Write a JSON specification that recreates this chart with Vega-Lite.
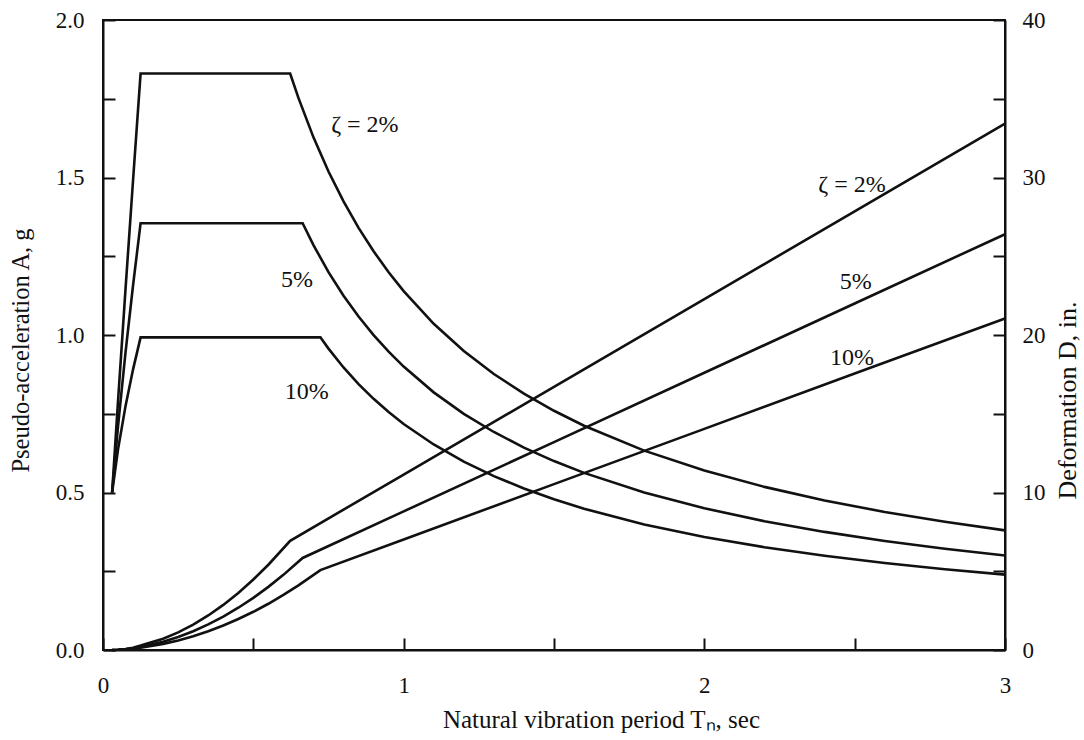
{
  "$schema": "https://vega.github.io/schema/vega-lite/v6.json",
  "width": 902,
  "height": 630,
  "autosize": {"type": "none"},
  "padding": {"left": 103, "top": 20, "right": 79, "bottom": 90},
  "background": "white",
  "datasets": {
    "acc": [
      {"T": 0.0303, "A": 0.5, "zeta": "2%"}, {"T": 0.05, "A": 0.791, "zeta": "2%"}, {"T": 0.075, "A": 1.147, "zeta": "2%"}, {"T": 0.1, "A": 1.492, "zeta": "2%"}, {"T": 0.125, "A": 1.83, "zeta": "2%"}, {"T": 0.6225, "A": 1.83, "zeta": "2%"},
      {"T": 0.65, "A": 1.7526, "zeta": "2%"}, {"T": 0.7, "A": 1.6274, "zeta": "2%"}, {"T": 0.75, "A": 1.5189, "zeta": "2%"}, {"T": 0.8, "A": 1.424, "zeta": "2%"}, {"T": 0.85, "A": 1.3402, "zeta": "2%"}, {"T": 0.9, "A": 1.2658, "zeta": "2%"}, {"T": 0.95, "A": 1.1992, "zeta": "2%"}, {"T": 1.0, "A": 1.1392, "zeta": "2%"}, {"T": 1.1, "A": 1.0356, "zeta": "2%"}, {"T": 1.2, "A": 0.9493, "zeta": "2%"}, {"T": 1.3, "A": 0.8763, "zeta": "2%"}, {"T": 1.4, "A": 0.8137, "zeta": "2%"}, {"T": 1.5, "A": 0.7595, "zeta": "2%"}, {"T": 1.6, "A": 0.712, "zeta": "2%"}, {"T": 1.8, "A": 0.6329, "zeta": "2%"}, {"T": 2.0, "A": 0.5696, "zeta": "2%"}, {"T": 2.2, "A": 0.5178, "zeta": "2%"}, {"T": 2.4, "A": 0.4747, "zeta": "2%"}, {"T": 2.6, "A": 0.4382, "zeta": "2%"}, {"T": 2.8, "A": 0.4069, "zeta": "2%"}, {"T": 3.0, "A": 0.3797, "zeta": "2%"},
      {"T": 0.0303, "A": 0.5, "zeta": "5%"}, {"T": 0.05, "A": 0.711, "zeta": "5%"}, {"T": 0.075, "A": 0.946, "zeta": "5%"}, {"T": 0.1, "A": 1.158, "zeta": "5%"}, {"T": 0.125, "A": 1.355, "zeta": "5%"}, {"T": 0.664, "A": 1.355, "zeta": "5%"},
      {"T": 0.7, "A": 1.2853, "zeta": "5%"}, {"T": 0.75, "A": 1.1996, "zeta": "5%"}, {"T": 0.8, "A": 1.1246, "zeta": "5%"}, {"T": 0.85, "A": 1.0585, "zeta": "5%"}, {"T": 0.9, "A": 0.9997, "zeta": "5%"}, {"T": 0.95, "A": 0.9471, "zeta": "5%"}, {"T": 1.0, "A": 0.8997, "zeta": "5%"}, {"T": 1.1, "A": 0.8179, "zeta": "5%"}, {"T": 1.2, "A": 0.7498, "zeta": "5%"}, {"T": 1.3, "A": 0.6921, "zeta": "5%"}, {"T": 1.4, "A": 0.6426, "zeta": "5%"}, {"T": 1.5, "A": 0.5998, "zeta": "5%"}, {"T": 1.6, "A": 0.5623, "zeta": "5%"}, {"T": 1.8, "A": 0.4998, "zeta": "5%"}, {"T": 2.0, "A": 0.4499, "zeta": "5%"}, {"T": 2.2, "A": 0.409, "zeta": "5%"}, {"T": 2.4, "A": 0.3749, "zeta": "5%"}, {"T": 2.6, "A": 0.346, "zeta": "5%"}, {"T": 2.8, "A": 0.3213, "zeta": "5%"}, {"T": 3.0, "A": 0.2999, "zeta": "5%"},
      {"T": 0.0303, "A": 0.5, "zeta": "10%"}, {"T": 0.05, "A": 0.637, "zeta": "10%"}, {"T": 0.075, "A": 0.775, "zeta": "10%"}, {"T": 0.1, "A": 0.891, "zeta": "10%"}, {"T": 0.125, "A": 0.9925, "zeta": "10%"}, {"T": 0.723, "A": 0.9925, "zeta": "10%"},
      {"T": 0.75, "A": 0.9568, "zeta": "10%"}, {"T": 0.8, "A": 0.897, "zeta": "10%"}, {"T": 0.85, "A": 0.8442, "zeta": "10%"}, {"T": 0.9, "A": 0.7973, "zeta": "10%"}, {"T": 0.95, "A": 0.7554, "zeta": "10%"}, {"T": 1.0, "A": 0.7176, "zeta": "10%"}, {"T": 1.1, "A": 0.6524, "zeta": "10%"}, {"T": 1.2, "A": 0.598, "zeta": "10%"}, {"T": 1.3, "A": 0.552, "zeta": "10%"}, {"T": 1.4, "A": 0.5126, "zeta": "10%"}, {"T": 1.5, "A": 0.4784, "zeta": "10%"}, {"T": 1.6, "A": 0.4485, "zeta": "10%"}, {"T": 1.8, "A": 0.3987, "zeta": "10%"}, {"T": 2.0, "A": 0.3588, "zeta": "10%"}, {"T": 2.2, "A": 0.3262, "zeta": "10%"}, {"T": 2.4, "A": 0.299, "zeta": "10%"}, {"T": 2.6, "A": 0.276, "zeta": "10%"}, {"T": 2.8, "A": 0.2563, "zeta": "10%"}, {"T": 3.0, "A": 0.2392, "zeta": "10%"}
    ],
    "def": [
      {"T": 0.0303, "D": 0.0045, "zeta": "2%"}, {"T": 0.05, "D": 0.0193, "zeta": "2%"}, {"T": 0.075, "D": 0.0631, "zeta": "2%"}, {"T": 0.1, "D": 0.1459, "zeta": "2%"}, {"T": 0.125, "D": 0.2797, "zeta": "2%"}, {"T": 0.2, "D": 0.716, "zeta": "2%"}, {"T": 0.25, "D": 1.1186, "zeta": "2%"}, {"T": 0.3, "D": 1.611, "zeta": "2%"}, {"T": 0.35, "D": 2.1924, "zeta": "2%"}, {"T": 0.4, "D": 2.864, "zeta": "2%"}, {"T": 0.45, "D": 3.624, "zeta": "2%"}, {"T": 0.5, "D": 4.474, "zeta": "2%"}, {"T": 0.55, "D": 5.414, "zeta": "2%"}, {"T": 0.6225, "D": 6.935, "zeta": "2%"}, {"T": 1.0, "D": 11.14, "zeta": "2%"}, {"T": 1.5, "D": 16.71, "zeta": "2%"}, {"T": 2.0, "D": 22.28, "zeta": "2%"}, {"T": 2.5, "D": 27.85, "zeta": "2%"}, {"T": 3.0, "D": 33.42, "zeta": "2%"},
      {"T": 0.0303, "D": 0.0045, "zeta": "5%"}, {"T": 0.05, "D": 0.0174, "zeta": "5%"}, {"T": 0.075, "D": 0.052, "zeta": "5%"}, {"T": 0.1, "D": 0.1133, "zeta": "5%"}, {"T": 0.125, "D": 0.2071, "zeta": "5%"}, {"T": 0.2, "D": 0.53, "zeta": "5%"}, {"T": 0.25, "D": 0.8282, "zeta": "5%"}, {"T": 0.3, "D": 1.193, "zeta": "5%"}, {"T": 0.35, "D": 1.6234, "zeta": "5%"}, {"T": 0.4, "D": 2.12, "zeta": "5%"}, {"T": 0.45, "D": 2.6835, "zeta": "5%"}, {"T": 0.5, "D": 3.313, "zeta": "5%"}, {"T": 0.55, "D": 4.0087, "zeta": "5%"}, {"T": 0.6, "D": 4.7707, "zeta": "5%"}, {"T": 0.664, "D": 5.843, "zeta": "5%"}, {"T": 1.0, "D": 8.8, "zeta": "5%"}, {"T": 1.5, "D": 13.2, "zeta": "5%"}, {"T": 2.0, "D": 17.6, "zeta": "5%"}, {"T": 2.5, "D": 22.0, "zeta": "5%"}, {"T": 3.0, "D": 26.4, "zeta": "5%"},
      {"T": 0.0303, "D": 0.0045, "zeta": "10%"}, {"T": 0.05, "D": 0.0156, "zeta": "10%"}, {"T": 0.075, "D": 0.0426, "zeta": "10%"}, {"T": 0.1, "D": 0.0871, "zeta": "10%"}, {"T": 0.125, "D": 0.1517, "zeta": "10%"}, {"T": 0.2, "D": 0.3883, "zeta": "10%"}, {"T": 0.25, "D": 0.6067, "zeta": "10%"}, {"T": 0.3, "D": 0.8736, "zeta": "10%"}, {"T": 0.35, "D": 1.1891, "zeta": "10%"}, {"T": 0.4, "D": 1.553, "zeta": "10%"}, {"T": 0.45, "D": 1.9656, "zeta": "10%"}, {"T": 0.5, "D": 2.427, "zeta": "10%"}, {"T": 0.55, "D": 2.9363, "zeta": "10%"}, {"T": 0.6, "D": 3.494, "zeta": "10%"}, {"T": 0.65, "D": 4.101, "zeta": "10%"}, {"T": 0.723, "D": 5.074, "zeta": "10%"}, {"T": 1.0, "D": 7.018, "zeta": "10%"}, {"T": 1.5, "D": 10.53, "zeta": "10%"}, {"T": 2.0, "D": 14.04, "zeta": "10%"}, {"T": 2.5, "D": 17.55, "zeta": "10%"}, {"T": 3.0, "D": 21.05, "zeta": "10%"}
    ],
    "labA": [
      {"T": 0.871, "A": 1.667, "text": "ζ = 2%"},
      {"T": 0.645, "A": 1.175, "text": "5%"},
      {"T": 0.678, "A": 0.819, "text": "10%"}
    ],
    "labD": [
      {"T": 2.491, "D": 29.52, "text": "ζ = 2%"},
      {"T": 2.504, "D": 23.37, "text": "5%"},
      {"T": 2.491, "D": 18.54, "text": "10%"}
    ]
  },
  "layer": [
    {
      "layer": [
        {
          "data": {"name": "acc"},
          "mark": {"type": "line", "color": "#111", "strokeWidth": 2.6},
          "encoding": {
            "x": {"field": "T", "type": "quantitative", "scale": {"domain": [0, 3], "nice": false, "zero": false},
              "axis": {"title": "Natural vibration period Tₙ, sec", "values": [0, 0.5, 1, 1.5, 2, 2.5, 3], "labelExpr": "datum.value % 1 == 0 ? format(datum.value, 'd') : ''", "labelPadding": 36, "titlePadding": 10, "titleX": 498, "titleFontSize": 25}},
            "y": {"field": "A", "type": "quantitative", "scale": {"domain": [0, 2], "nice": false},
              "axis": {"title": "Pseudo-acceleration A, g", "orient": "left", "values": [0, 0.25, 0.5, 0.75, 1, 1.25, 1.5, 1.75, 2], "labelExpr": "(datum.value * 100) % 50 == 0 ? format(datum.value, '.1f') : ''", "labelPadding": 31, "titlePadding": 22, "titleFontSize": 24.5, "titleY": 330}},
            "detail": {"field": "zeta", "type": "nominal"}
          }
        },
        {
          "data": {"name": "labA"},
          "mark": {"type": "text", "font": "Liberation Serif", "fontSize": 24, "color": "#111", "align": "center", "baseline": "middle"},
          "encoding": {
            "x": {"field": "T", "type": "quantitative"},
            "y": {"field": "A", "type": "quantitative"},
            "text": {"field": "text"}
          }
        }
      ]
    },
    {
      "layer": [
        {
          "data": {"name": "def"},
          "mark": {"type": "line", "color": "#111", "strokeWidth": 2.6},
          "encoding": {
            "x": {"field": "T", "type": "quantitative"},
            "y": {"field": "D", "type": "quantitative", "scale": {"domain": [0, 40], "nice": false},
              "axis": {"title": "Deformation D, in.", "orient": "right", "values": [0, 5, 10, 15, 20, 25, 30, 35, 40], "labelExpr": "datum.value % 10 == 0 ? format(datum.value, 'd') : ''", "labelPadding": 29, "titlePadding": 9, "titleAngle": -90, "titleBaseline": "top", "titleY": 380, "titleFontSize": 26}},
            "detail": {"field": "zeta", "type": "nominal"}
          }
        },
        {
          "data": {"name": "labD"},
          "mark": {"type": "text", "font": "Liberation Serif", "fontSize": 24, "color": "#111", "align": "center", "baseline": "middle"},
          "encoding": {
            "x": {"field": "T", "type": "quantitative"},
            "y": {"field": "D", "type": "quantitative"},
            "text": {"field": "text"}
          }
        }
      ]
    }
  ],
  "resolve": {"scale": {"y": "independent"}},
  "config": {
    "view": {"stroke": "#111", "strokeWidth": 2},
    "axis": {
      "domainColor": "#111", "domainWidth": 2, "tickColor": "#111", "tickWidth": 2, "tickSize": -12,
      "grid": false, "labelFont": "Liberation Serif", "labelFontSize": 23, "labelColor": "#111",
      "titleFont": "Liberation Serif", "titleFontSize": 22, "titleFontWeight": "normal", "titleColor": "#111",
      "labelFlush": false, "labelOverlap": false
    }
  }
}
